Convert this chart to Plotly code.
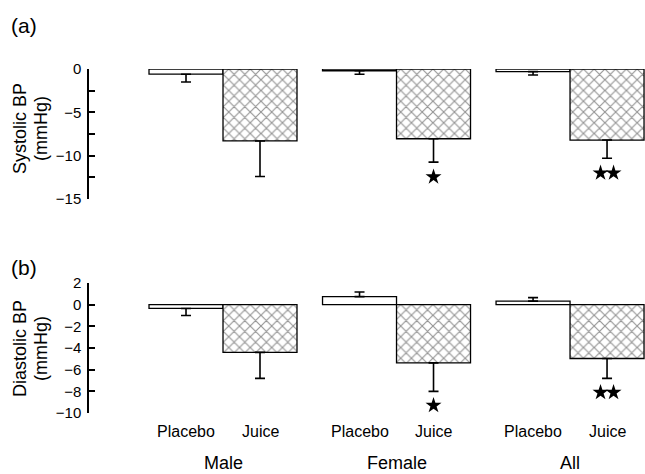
import plotly.graph_objects as go

# ---------------- data ----------------
groups = ["Male", "Female", "All"]
treatments = ["Placebo", "Juice"]

# order: Male-Placebo, Male-Juice, Female-Placebo, Female-Juice, All-Placebo, All-Juice
systolic_mean = [-0.6, -8.3, -0.2, -8.05, -0.3, -8.2]
systolic_err = [0.9, 4.1, 0.4, 2.7, 0.4, 2.1]
diastolic_mean = [-0.35, -4.4, 0.74, -5.37, 0.33, -4.97]
diastolic_err = [0.65, 2.4, 0.43, 2.63, 0.32, 1.83]
sig_stars = [0, 0, 0, 1, 0, 2]

systolic_ticks = [0, -5, -10, -15]
diastolic_ticks = [2, 0, -2, -4, -6, -8, -10]

# ---------------- layout helpers ----------------
W, H = 645, 474
FONT = "Liberation Sans, Arial, Helvetica, sans-serif"
GROUP_STEP = 2.345


def px(x):
    return x / W


def py(y):
    return 1 - y / H


xpos = [g * GROUP_STEP + t for g in range(len(groups)) for t in range(len(treatments))]

fig = go.Figure()

panels = [
    (systolic_mean, systolic_err, "x", "y", 1.7),
    (diastolic_mean, diastolic_err, "x2", "y2", 1.3),
]

for means, errs, xa, ya, star_gap in panels:
    for t, name in enumerate(treatments):
        idx = [i for i in range(len(xpos)) if i % 2 == t]
        xs = [xpos[i] for i in idx]
        ys = [means[i] for i in idx]
        up = [errs[i] if means[i] > 0 else 0 for i in idx]
        dn = [errs[i] if means[i] < 0 else 0 for i in idx]
        marker = dict(color="white", line=dict(color="black", width=1.3))
        if name == "Juice":
            marker["pattern"] = dict(shape="x", fgcolor="#2a2a2a", bgcolor="white",
                                     size=7.6, solidity=0.28, fillmode="overlay")
        fig.add_trace(go.Bar(
            x=xs, y=ys, width=1, name=name, marker=marker,
            cliponaxis=False, xaxis=xa, yaxis=ya,
            error_y=dict(type="data", symmetric=False, array=up, arrayminus=dn,
                         color="black", thickness=1.6, width=5),
            hoverinfo="skip",
        ))
    # significance stars
    sx, sy = [], []
    for i, n in enumerate(sig_stars):
        if n == 0:
            continue
        base = means[i] - errs[i] - star_gap
        offs = [0] if n == 1 else [-0.088, 0.088]
        for o in offs:
            sx.append(xpos[i] + o)
            sy.append(base)
    fig.add_trace(go.Scatter(
        x=sx, y=sy, mode="markers", xaxis=xa, yaxis=ya, cliponaxis=False,
        marker=dict(symbol="star", size=12, color="black", line=dict(width=0)),
        hoverinfo="skip",
    ))

x_range = [-1.311, 6.203]
xcommon = dict(range=x_range, domain=[px(89), 1], visible=False, showgrid=False,
               zeroline=False, fixedrange=True)


def yaxis_style(**kw):
    d = dict(showline=True, linecolor="black", linewidth=1.5, ticks="inside",
             ticklen=6, tickwidth=1.5, tickcolor="black", showgrid=False,
             zeroline=False, automargin=False, ticklabelstandoff=3,
             tickfont=dict(family=FONT, size=15, color="black"))
    d.update(kw)
    return d


fig.update_layout(
    width=W, height=H, autosize=False,
    margin=dict(l=0, r=0, t=0, b=0, pad=0, autoexpand=False),
    paper_bgcolor="white", plot_bgcolor="white", showlegend=False,
    barmode="overlay",
    font=dict(family=FONT, color="black"),
    xaxis=dict(**xcommon, anchor="y"),
    xaxis2=dict(**xcommon, anchor="y2"),
    yaxis=yaxis_style(anchor="x", domain=[py(199), py(69)], range=[-15, 0],
                      tickvals=systolic_ticks,
                      minor=dict(ticks="inside", ticklen=6, tickwidth=1.5,
                                 tickcolor="black", dtick=2.5, tick0=0, showgrid=False)),
    yaxis2=yaxis_style(anchor="x2", domain=[py(413), py(283)], range=[-10, 2],
                       tickvals=diastolic_ticks),
)

ann = []
# panel letters
ann.append(dict(text="(a)", x=px(9), y=py(25), xref="paper", yref="paper",
                xanchor="left", yanchor="middle", showarrow=False,
                font=dict(family=FONT, size=21, color="black")))
ann.append(dict(text="(b)", x=px(9), y=py(267), xref="paper", yref="paper",
                xanchor="left", yanchor="middle", showarrow=False,
                font=dict(family=FONT, size=21, color="black")))
# y titles
for line, xc, yc in [("Systolic BP", 20, 129), ("(mmHg)", 41, 129),
                     ("Diastolic BP", 20, 349), ("(mmHg)", 41, 349)]:
    ann.append(dict(text=line, x=px(xc), y=py(yc), xref="paper", yref="paper",
                    xanchor="center", yanchor="middle", textangle=-90, showarrow=False,
                    font=dict(family=FONT, size=18, color="black")))
# treatment labels
for i, xv in enumerate(xpos):
    ann.append(dict(text=treatments[i % 2], x=xv, y=py(431), xref="x2", yref="paper",
                    xanchor="center", yanchor="middle", showarrow=False,
                    font=dict(family=FONT, size=16, color="black")))
# group labels
for g, name in enumerate(groups):
    ann.append(dict(text=name, x=g * GROUP_STEP + 0.5, y=py(463), xref="x2", yref="paper",
                    xanchor="center", yanchor="middle", showarrow=False,
                    font=dict(family=FONT, size=18, color="black")))
fig.update_layout(annotations=ann)

fig.write_html(
    "out.html",
    config={"displayModeBar": False},
    post_script="document.body.style.margin='0';document.body.style.padding='0';"
                "document.body.style.overflow='hidden';",
)
